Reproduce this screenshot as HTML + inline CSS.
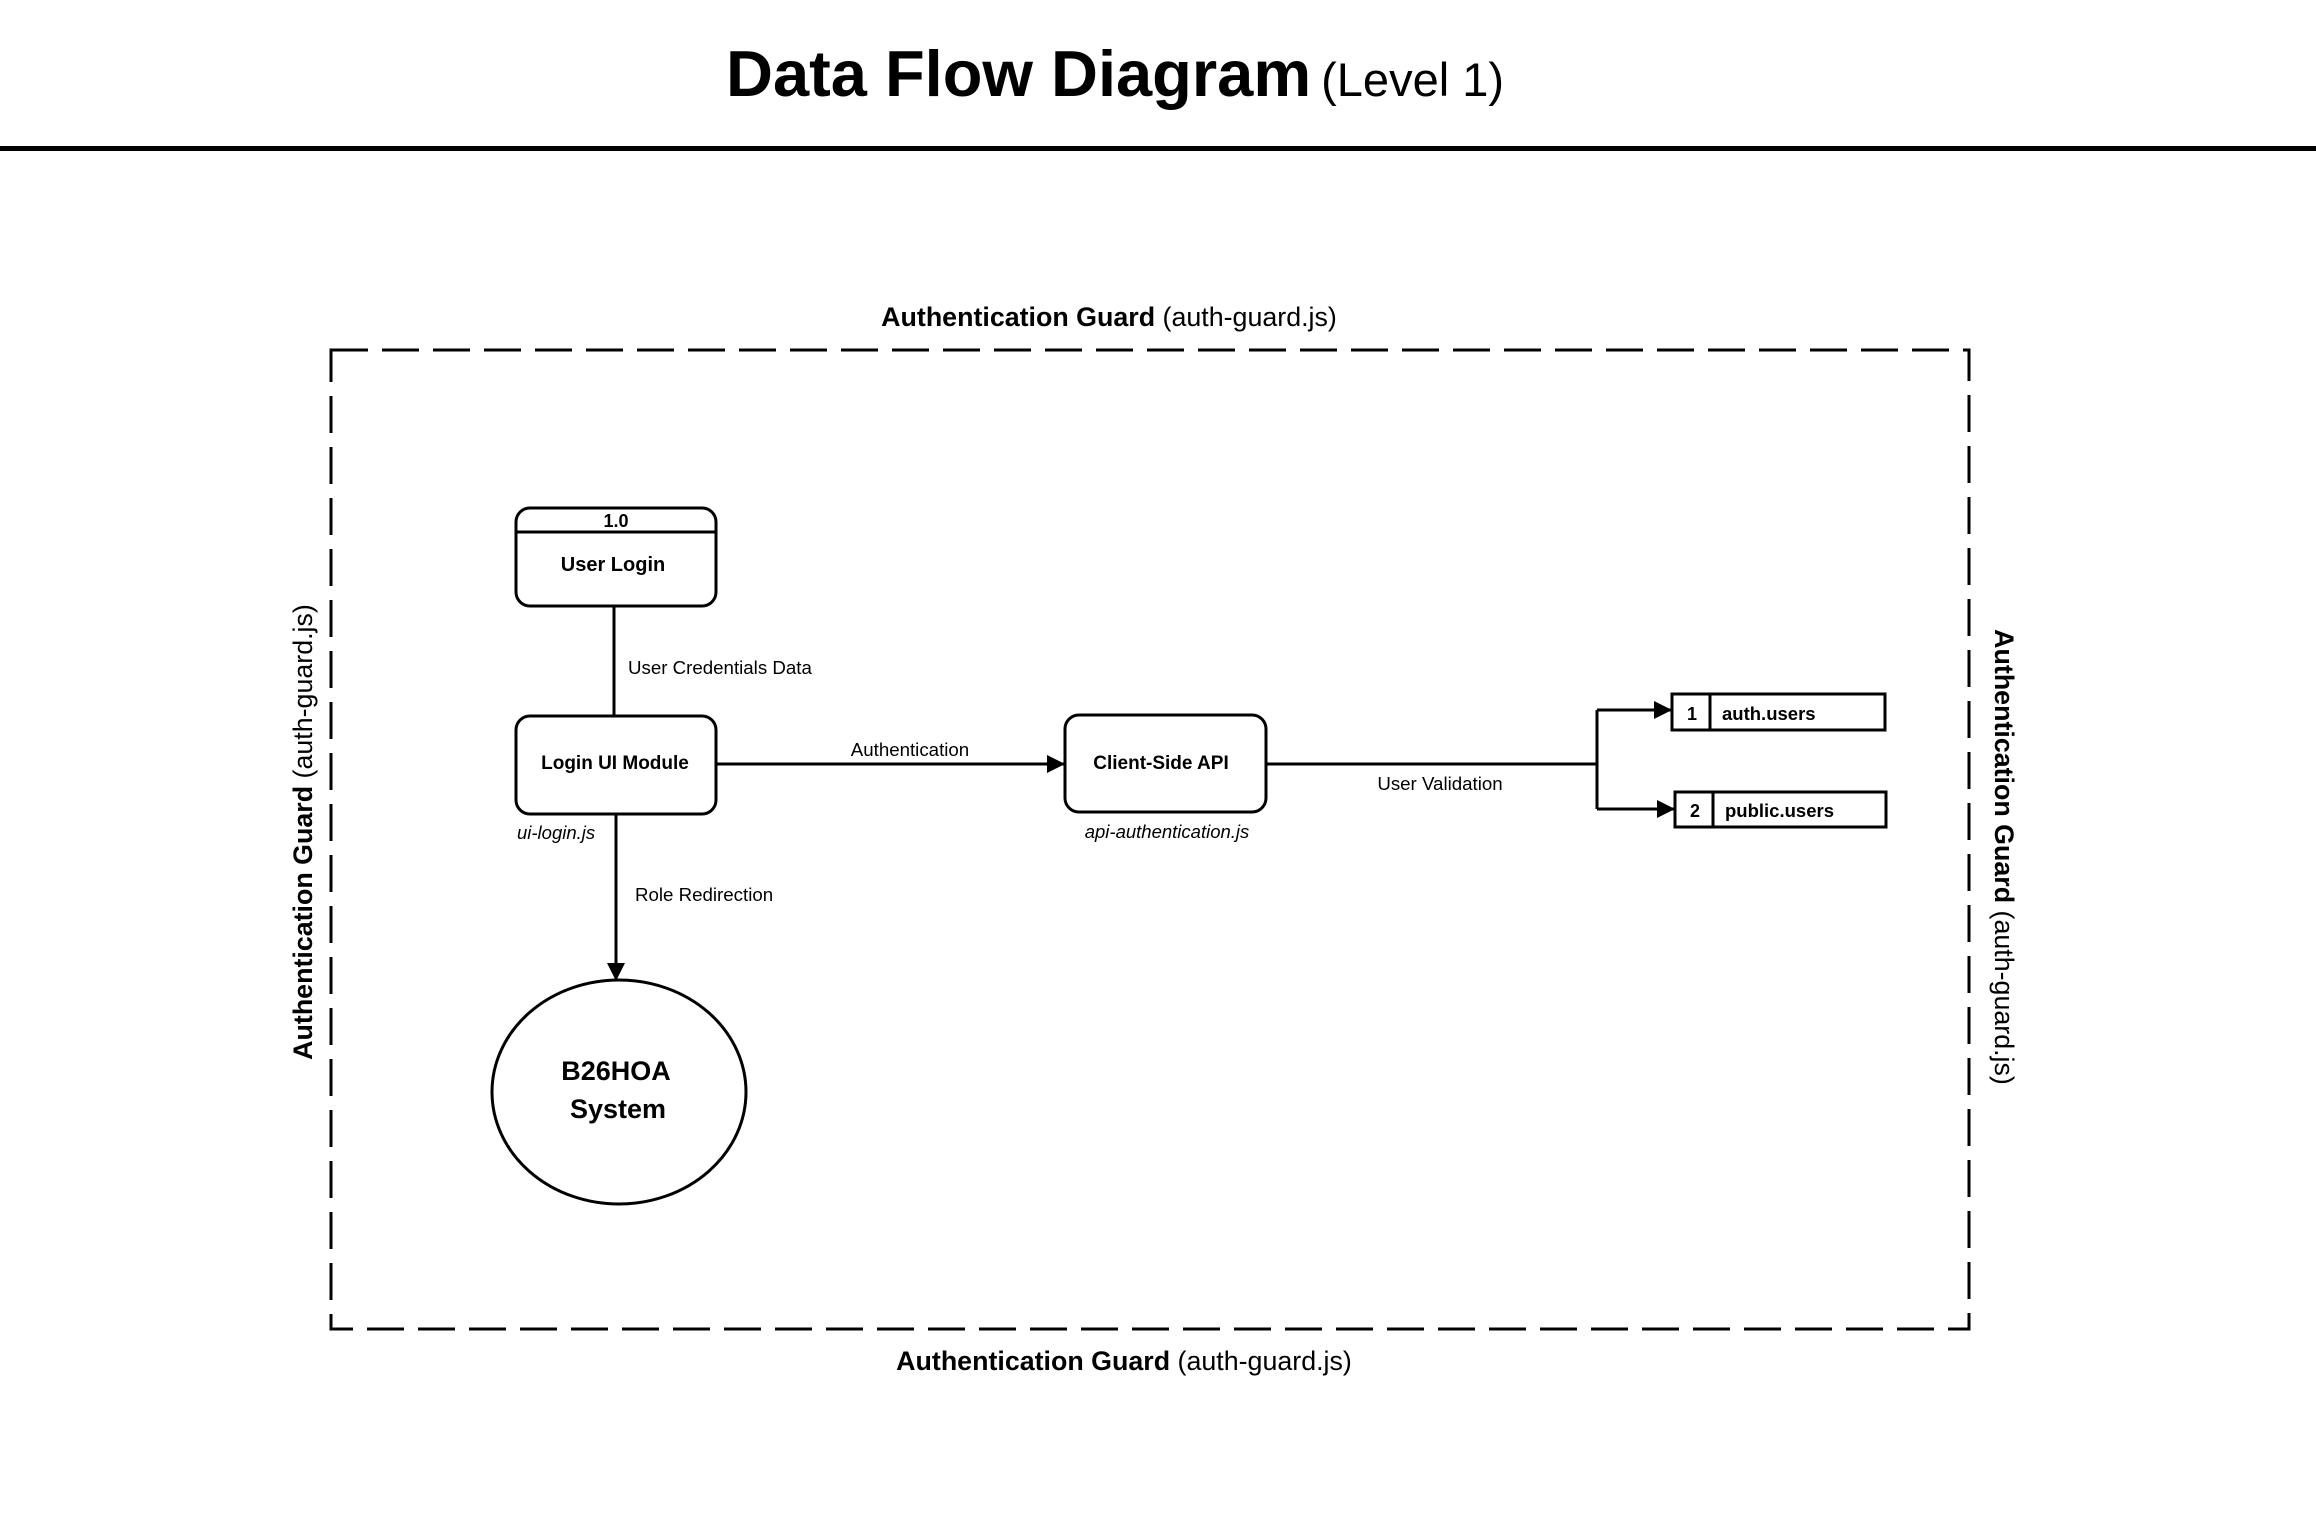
<!DOCTYPE html>
<html><head><meta charset="utf-8"><style>
html,body{margin:0;padding:0;background:#fff;}
svg{display:block;}
text{font-family:"Liberation Sans",Arial,sans-serif;fill:#000;}
</style></head><body>
<svg width="2316" height="1528" viewBox="0 0 2316 1528" xmlns="http://www.w3.org/2000/svg">
<defs>
<marker id="ah2" markerWidth="18" markerHeight="18" refX="17" refY="9" orient="auto" markerUnits="userSpaceOnUse">
<path d="M0,0 L18,9 L0,18 z" fill="#000"/>
</marker>
</defs>
<text x="1115" y="96" text-anchor="middle"><tspan font-size="65" font-weight="bold">Data Flow Diagram</tspan><tspan font-size="47" dx="10">(Level 1)</tspan></text>
<rect x="0" y="146" width="2316" height="5" fill="#000"/>

<rect x="331" y="350" width="1638" height="979" fill="none" stroke="#000" stroke-width="3" stroke-dasharray="37,14"/>
<text x="1109" y="326" text-anchor="middle" font-size="26.8"><tspan font-weight="bold">Authentication Guard</tspan> (auth-guard.js)</text>
<text x="1124" y="1370" text-anchor="middle" font-size="26.8"><tspan font-weight="bold">Authentication Guard</tspan> (auth-guard.js)</text>
<text transform="translate(312,832) rotate(-90)" text-anchor="middle" font-size="26.8"><tspan font-weight="bold">Authentication Guard</tspan> (auth-guard.js)</text>
<text transform="translate(1995,857) rotate(90)" text-anchor="middle" font-size="26.8"><tspan font-weight="bold">Authentication Guard</tspan> (auth-guard.js)</text>

<rect x="516" y="508" width="200" height="98" rx="14" fill="#fff" stroke="#000" stroke-width="3"/>
<line x1="516" y1="532" x2="716" y2="532" stroke="#000" stroke-width="3"/>
<text x="616" y="527" text-anchor="middle" font-size="18" font-weight="bold">1.0</text>
<text x="613" y="571" text-anchor="middle" font-size="20" font-weight="bold">User Login</text>

<line x1="614" y1="606" x2="614" y2="716" stroke="#000" stroke-width="3"/>
<text x="628" y="674" font-size="18.7">User Credentials Data</text>

<rect x="516" y="716" width="200" height="98" rx="14" fill="#fff" stroke="#000" stroke-width="3"/>
<text x="615" y="769" text-anchor="middle" font-size="19" font-weight="bold">Login UI Module</text>
<text x="517" y="839" font-size="18.5" font-style="italic">ui-login.js</text>

<line x1="716" y1="764" x2="1064" y2="764" stroke="#000" stroke-width="3" marker-end="url(#ah2)"/>
<text x="910" y="756" text-anchor="middle" font-size="18.7">Authentication</text>

<rect x="1065" y="715" width="201" height="97" rx="14" fill="#fff" stroke="#000" stroke-width="3"/>
<text x="1161" y="769" text-anchor="middle" font-size="19" font-weight="bold">Client-Side API</text>
<text x="1167" y="838" text-anchor="middle" font-size="18.5" font-style="italic">api-authentication.js</text>

<line x1="616" y1="814" x2="616" y2="980" stroke="#000" stroke-width="3" marker-end="url(#ah2)"/>
<text x="635" y="901" font-size="18.7">Role Redirection</text>

<ellipse cx="619" cy="1092" rx="127" ry="112" fill="#fff" stroke="#000" stroke-width="3"/>
<text x="616" y="1080" text-anchor="middle" font-size="27" font-weight="bold">B26HOA</text>
<text x="618" y="1118" text-anchor="middle" font-size="27" font-weight="bold">System</text>

<polyline points="1266,764 1597,764" fill="none" stroke="#000" stroke-width="3"/>
<polyline points="1597,710 1597,809" fill="none" stroke="#000" stroke-width="3"/>
<line x1="1597" y1="710" x2="1671" y2="710" stroke="#000" stroke-width="3" marker-end="url(#ah2)"/>
<line x1="1597" y1="809" x2="1674" y2="809" stroke="#000" stroke-width="3" marker-end="url(#ah2)"/>
<text x="1440" y="790" text-anchor="middle" font-size="18.7">User Validation</text>

<rect x="1672" y="694" width="213" height="36" fill="#fff" stroke="#000" stroke-width="3"/>
<line x1="1710" y1="694" x2="1710" y2="730" stroke="#000" stroke-width="3"/>
<text x="1692" y="720" text-anchor="middle" font-size="18" font-weight="bold">1</text>
<text x="1722" y="720" font-size="18.5" font-weight="bold">auth.users</text>

<rect x="1675" y="792" width="211" height="35" fill="#fff" stroke="#000" stroke-width="3"/>
<line x1="1713" y1="792" x2="1713" y2="827" stroke="#000" stroke-width="3"/>
<text x="1695" y="817" text-anchor="middle" font-size="18" font-weight="bold">2</text>
<text x="1725" y="817" font-size="18.5" font-weight="bold">public.users</text>
</svg>
</body></html>
